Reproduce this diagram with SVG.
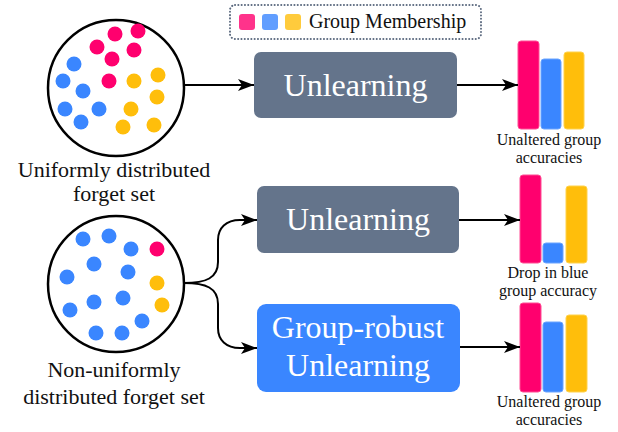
<svg xmlns="http://www.w3.org/2000/svg" width="618" height="432" viewBox="0 0 618 432">
<style>
.pk{fill:#ff006e}.bl{fill:#3a86ff}.yl{fill:#ffbe0b}
.set{fill:#fff;stroke:#000;stroke-width:2.5}
.lbl{font-family:"Liberation Serif","Times New Roman",serif;fill:#111;text-anchor:middle}
.sm{font-size:16px}
.box{font-family:"Liberation Serif","Times New Roman",serif;fill:#fff;font-size:32px;text-anchor:middle}
.con{fill:none;stroke:#000;stroke-width:2}
.bar{stroke-width:1}
</style>
<defs>
<marker id="ah" markerUnits="userSpaceOnUse" markerWidth="18" markerHeight="14" refX="16" refY="6" orient="auto">
<path d="M0,0 L16,6 L0,12 L4,6 z" fill="#000"/>
</marker>
</defs>
<rect width="618" height="432" fill="#fff"/>

<g id="legend">
<rect x="230" y="5" width="251" height="34" rx="5" fill="none" stroke="#5d6b80" stroke-width="2" stroke-dasharray="0.1 3.2" stroke-linecap="round"/>
<rect x="239" y="14" width="16" height="16" rx="3" fill="#ff006e" opacity="0.8"/>
<rect x="262" y="14" width="16" height="16" rx="3" fill="#3a86ff" opacity="0.8"/>
<rect x="285" y="14" width="16" height="16" rx="3" fill="#ffbe0b" opacity="0.8"/>
<text x="309" y="28" class="lbl" style="text-anchor:start;font-size:20px">Group Membership</text>
</g>

<g id="uniform-set">
<circle cx="116" cy="88" r="68" class="set"/>
<g class="pk">
<circle cx="115" cy="34" r="7.5"/><circle cx="138" cy="31" r="7.5"/><circle cx="97" cy="47" r="7.5"/>
<circle cx="112" cy="59" r="7.5"/><circle cx="134" cy="50" r="7.5"/><circle cx="109" cy="81" r="7.5"/>
</g>
<g class="bl">
<circle cx="74" cy="64" r="7.5"/><circle cx="63" cy="81" r="7.5"/><circle cx="83" cy="91" r="7.5"/>
<circle cx="65" cy="109" r="7.5"/><circle cx="99" cy="109" r="7.5"/><circle cx="81" cy="122" r="7.5"/>
</g>
<g class="yl">
<circle cx="158" cy="75" r="7.5"/><circle cx="134" cy="81" r="7.5"/><circle cx="157" cy="97" r="7.5"/>
<circle cx="131" cy="109" r="7.5"/><circle cx="123" cy="127" r="7.5"/><circle cx="154" cy="125" r="7.5"/>
</g>
<text class="lbl" style="font-size:22px"><tspan x="114" y="177">Uniformly distributed</tspan><tspan x="114" y="201">forget set</tspan></text>
</g>

<g id="nonuniform-set">
<circle cx="116" cy="284" r="68" class="set"/>
<g class="bl">
<circle cx="83" cy="239" r="7.5"/><circle cx="109" cy="236" r="7.5"/><circle cx="131" cy="249" r="7.5"/>
<circle cx="94" cy="264" r="7.5"/><circle cx="67" cy="277" r="7.5"/><circle cx="128" cy="272" r="7.5"/>
<circle cx="94" cy="302" r="7.5"/><circle cx="123" cy="298" r="7.5"/><circle cx="70" cy="310" r="7.5"/>
<circle cx="96" cy="333" r="7.5"/><circle cx="122" cy="333" r="7.5"/><circle cx="142" cy="321" r="7.5"/>
</g>
<circle cx="157" cy="249" r="7.5" class="pk"/>
<circle cx="157" cy="283" r="7.5" class="yl"/>
<circle cx="162" cy="305" r="7.5" class="yl"/>
<text class="lbl" style="font-size:22px"><tspan x="114" y="377">Non-uniformly</tspan><tspan x="114" y="404">distributed forget set</tspan></text>
</g>

<g id="unlearning-1">
<rect x="254" y="52" width="203" height="66" rx="7" fill="#64748b"/>
<text x="355.5" y="96" class="box">Unlearning</text>
</g>
<g id="unlearning-2">
<rect x="257" y="186" width="202" height="67" rx="7" fill="#64748b"/>
<text x="358" y="230" class="box">Unlearning</text>
</g>
<g id="group-robust">
<rect x="257" y="304" width="203" height="88" rx="9" fill="#3a86ff"/>
<text class="box"><tspan x="358" y="338">Group-robust</tspan><tspan x="358" y="376">Unlearning</tspan></text>
</g>

<g id="bars-1">
<rect x="518" y="41" width="21" height="88" rx="3" class="pk bar" stroke="#ff4d94"/>
<rect x="541" y="59" width="20" height="70" rx="3" class="bl bar" stroke="#6aa4ff"/>
<rect x="564" y="52" width="20" height="77" rx="3" class="yl bar" stroke="#ffd24d"/>
<text class="lbl sm"><tspan x="549" y="145">Unaltered group</tspan><tspan x="549" y="163">accuracies</tspan></text>
</g>
<g id="bars-2">
<rect x="520" y="175" width="21" height="88" rx="3" class="pk bar" stroke="#ff4d94"/>
<rect x="543" y="243" width="20" height="20" rx="3" class="bl bar" stroke="#6aa4ff"/>
<rect x="566" y="186" width="21" height="77" rx="3" class="yl bar" stroke="#ffd24d"/>
<text class="lbl sm"><tspan x="548" y="278">Drop in blue</tspan><tspan x="548" y="296">group accuracy</tspan></text>
</g>
<g id="bars-3">
<rect x="520" y="303" width="21" height="89" rx="3" class="pk bar" stroke="#ff4d94"/>
<rect x="543" y="322" width="20" height="70" rx="3" class="bl bar" stroke="#6aa4ff"/>
<rect x="566" y="315" width="21" height="77" rx="3" class="yl bar" stroke="#ffd24d"/>
<text class="lbl sm"><tspan x="549" y="407">Unaltered group</tspan><tspan x="549" y="425">accuracies</tspan></text>
</g>

<g id="connectors">
<path d="M184,85 L254,85" class="con" marker-end="url(#ah)"/>
<path d="M457,85 L518,85" class="con" marker-end="url(#ah)"/>
<path d="M184,283 C206,283 218,278 218,262 L218,240 C218,228 226,220 240,220 L257,220" class="con" marker-end="url(#ah)"/>
<path d="M184,283 C206,283 218,288 218,304 L218,328 C218,340 226,348 240,348 L257,348" class="con" marker-end="url(#ah)"/>
<path d="M459,220 L520,220" class="con" marker-end="url(#ah)"/>
<path d="M460,347 L520,347" class="con" marker-end="url(#ah)"/>
</g>
</svg>
